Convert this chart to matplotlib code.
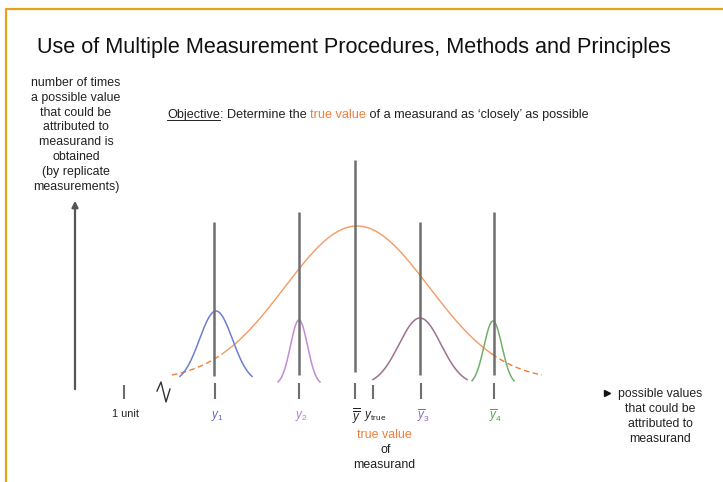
import matplotlib.pyplot as plt
import numpy as np

plt.rcParams['font.family'] = ['Liberation Sans', 'DejaVu Sans']
plt.rcParams['mathtext.fontset'] = 'custom'
plt.rcParams['mathtext.it'] = 'Liberation Sans:italic'
plt.rcParams['mathtext.rm'] = 'Liberation Sans'

# 数据 (画布像素坐标下的示意位置)
baseline = 375
# 大的橙色分布 (所有测量)
big_mu, big_sigma, big_height, big_half = 357, 72, 149, 185
# 四个方法各自的分布
curve_mu = [216, 299, 420, 493]
curve_sigma = [16.5, 8.5, 21, 9]
curve_height = [72, 65, 67, 64]
curve_half = [36, 21, 47, 21]
curve_base = [383, 385, 385, 385]
curve_colors = ['#6f7fd0', '#c48ad6', '#9c7090', '#72b06a']
# 竖线 (平均值)
line_x = [214, 299, 355, 420, 494]
line_top = [222, 212, 160, 222, 212]
line_bottom = [376, 375, 372, 375, 375]
# 下方刻度与标签
tick_x = [124, 215, 299, 355, 373, 421, 494]
tick_labels = ['1 unit', r'$y_1$', r'$y_2$', r'$\overline{\overline{y}}$', r'$y_{\mathrm{true}}$',
               r'$\overline{y}_3$', r'$\overline{y}_4$']
tick_colors = ['#222222', '#5a6cc8', '#b07ccc', '#222222', '#222222', '#8a62b8', '#5aa050']

ylabel_lines = ['number of times', 'a possible value', 'that could be', 'attributed to',
                'measurand is', 'obtained', '(by replicate', 'measurements)']
xlabel_lines = ['possible values', 'that could be', 'attributed to', 'measurand']

fig = plt.figure(figsize=(7.23, 4.82), dpi=100)
ax = fig.add_axes([0, 0, 1, 1])
ax.set_xlim(0, 723)
ax.set_ylim(482, 0)
ax.axis('off')

# 边框
ax.plot([5.5, 5.5, 723], [482, 8.5, 8.5], color='#e3a21a', lw=1.6)

# 标题
ax.text(37, 47, 'Use of Multiple Measurement Procedures, Methods and Principles',
        fontsize=15.6, ha='left', va='center', color='#111111')

# Objective 一行
fig.canvas.draw()
r = fig.canvas.get_renderer()
parts = [('Objective', '#222222'), (': Determine the ', '#222222'), ('true value', '#f07d3a'),
         (" of a measurand as \u2018closely\u2019 as possible", '#222222')]
t = ax.text(167, 115, parts[0][0], fontsize=9.1, color=parts[0][1], va='center', ha='left')
first = t
for s, c in parts[1:]:
    t = ax.annotate(s, xy=(1, 0), xycoords=t, va='bottom', ha='left', fontsize=9.1, color=c)
fig.canvas.draw()
bb = first.get_window_extent(r).transformed(ax.transData.inverted())
uy = max(bb.y0, bb.y1) - 1.5
ax.plot([bb.x0, bb.x1], [uy, uy], color='#222222', lw=0.7)

# y 轴箭头和说明
ax.annotate('', xy=(75, 198), xytext=(75, 392),
            arrowprops=dict(arrowstyle='-|>', color='#555555', lw=1.6, mutation_scale=9))
for i, s in enumerate(ylabel_lines):
    ax.text(76, 83 + i * 14.8, s, fontsize=8.9, ha='center', va='center', color='#222222')

# x 说明
ax.plot([607], [393], marker='>', color='#111111', markersize=4.5)
for i, s in enumerate(xlabel_lines):
    ax.text(660, 394 + i * 15, s, fontsize=8.8, ha='center', va='center', color='#222222')

# 大分布 (两端落到基线)
x = np.linspace(big_mu - big_half, big_mu + big_half, 400)
g = np.exp(-(x - big_mu) ** 2 / (2 * big_sigma ** 2))
g_end = np.exp(-big_half ** 2 / (2 * big_sigma ** 2))
y = baseline - big_height * (g - g_end) / (1 - g_end)
mid = np.abs(x - big_mu) < 135
ax.plot(x[mid], y[mid], color='#f59a62', lw=1.0)
ax.plot(x[x <= big_mu - 134], y[x <= big_mu - 134], color='#f07d3a', lw=1.0, ls=(0, (4, 2.5)))
ax.plot(x[x >= big_mu + 134], y[x >= big_mu + 134], color='#f07d3a', lw=1.0, ls=(0, (4, 2.5)))

# 小分布
for mu, sg, h, hw, b, c in zip(curve_mu, curve_sigma, curve_height, curve_half, curve_base, curve_colors):
    xs = np.linspace(mu - hw, mu + hw, 200)
    ys = b - h * np.exp(-(xs - mu) ** 2 / (2 * sg ** 2))
    ax.plot(xs, ys, color=c, lw=1.1)

# 竖线
for lx, lt, lb in zip(line_x, line_top, line_bottom):
    ax.plot([lx, lx], [lt, lb], color='#6e6e6e', lw=1.8, solid_capstyle='butt')

# 刻度
for tx, lab, c in zip(tick_x, tick_labels, tick_colors):
    top = 385 if tx in (124, 373) else 383
    ax.plot([tx, tx], [top, 399], color='#6e6e6e', lw=1.5, solid_capstyle='butt')
    if lab == '1 unit':
        ax.text(tx + 2, 414, lab, fontsize=7.8, ha='center', va='center', color=c)
    else:
        ax.text(tx + 2, 416, lab, fontsize=8.5, ha='center', va='center', color=c)

# 断开符号
brk_x = [157, 161, 166, 170]
brk_y = [391, 382, 402, 389]
ax.plot(brk_x, brk_y, color='#333333', lw=1.0)

# true value of measurand
ax.text(384, 435, 'true value', fontsize=8.9, ha='center', va='center', color='#f07d3a')
ax.text(386, 450, 'of', fontsize=8.9, ha='center', va='center', color='#222222')
ax.text(384, 465, 'measurand', fontsize=8.9, ha='center', va='center', color='#222222')

fig.savefig('out.png', dpi=100)
